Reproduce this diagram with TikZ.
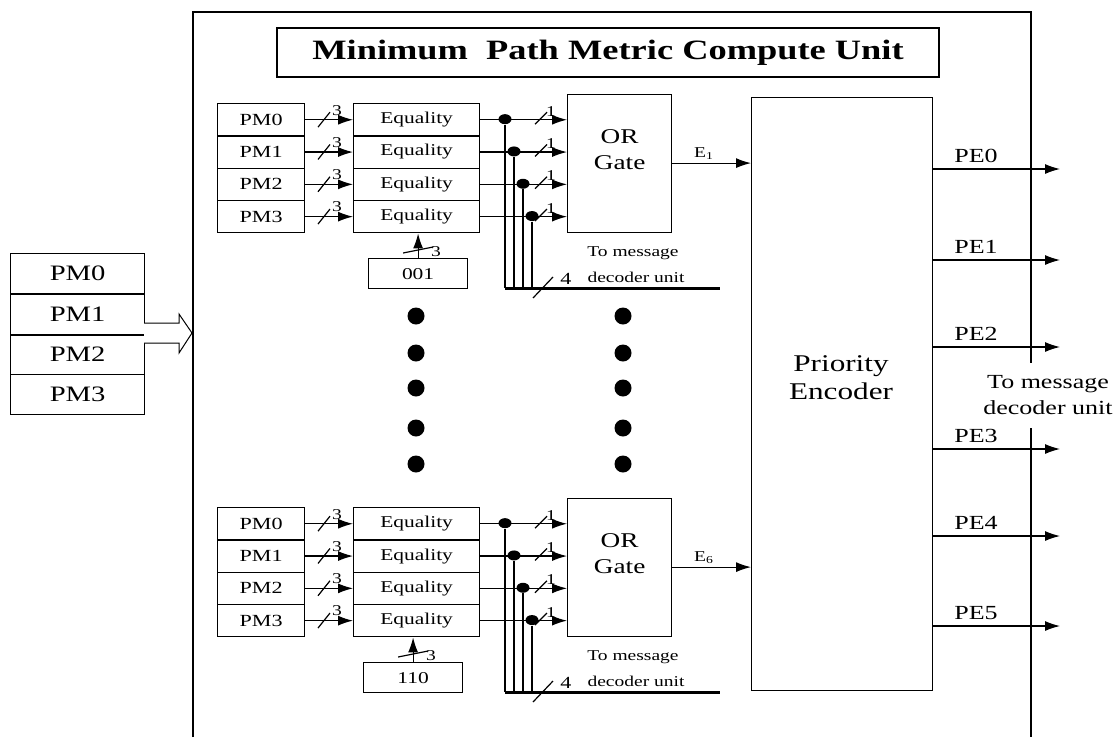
\documentclass[tikz,border=0pt]{standalone}
\usepackage{fontspec}
\setmainfont{Liberation Serif}[FakeStretch=1.3]
\usetikzlibrary{arrows.meta,shapes.geometric}

% one block of four comparators with its OR gate
% #1 prefix, #2 top of first row, #3 constant, #4 x of constant box, #5 index of E
\newcommand\pmgrp[5]{%
  \node[draw,inner sep=0pt,anchor=north west,minimum width=104pt,minimum height=138pt] (#1or) at (567,#2-9.5) {};
  \node[font=\fontsize{21}{26}\selectfont,align=center] at ([yshift=13pt]#1or.center) {OR\\Gate};
  \coordinate (#1busL) at (505,#2+185);
  \coordinate (#1busR) at (720,#2+185);
  \foreach \k in {0,...,3}{
    \pgfmathsetmacro\rowY{#2+\k*32.3}
    \pgfmathsetmacro\midY{#2+(\k+0.5)*32.3}
    \pgfmathsetmacro\dotX{505+9*\k}
    \node[cell,font=\fontsize{17}{19}\selectfont,minimum width=87pt,minimum height=32.3pt] (#1pm\k) at (217,\rowY) {PM\k};
    \node[cell,minimum width=126pt,minimum height=32.3pt] (#1eq\k) at (353,\rowY) {Equality};
    \draw[->] (#1pm\k) -- (#1eq\k);
    \draw (318,\midY+8) -- ++(12,-15);
    \node[small] at (337,\midY-9) {3};
    \draw[->] (#1eq\k.east) -- (#1or.west |- #1eq\k.east);
    \node[dot] (#1dot\k) at (\dotX,\midY) {};
    \draw[line width=1.6pt] (#1dot\k) -- (#1dot\k |- #1busL);
    \draw (535,\midY+5) -- ++(12,-12);
    \node[small] at (551,\midY-8) {1};
  }
  \draw[line width=3pt] (#1busL) -- (#1busR);
  \draw (533,#2+195) -- (553,#2+174);
  \node[font=\fontsize{17}{19}\selectfont] at (566,#2+176) {4};
  \node[small] at (633,#2+150) {To message};
  \node[small] at (636,#2+174) {decoder unit};
  \node[cell,minimum width=99pt,minimum height=30pt] (#1code) at (#4,#2+155) {#3};
  \draw[->] (#1code.north) -- (#1code.north |- #1eq3.south);
  \draw ([xshift=-15pt,yshift=5pt]#1code.north) -- ++(30,-6);
  \node[small] at ([xshift=18pt,yshift=6pt]#1code.north) {3};
  \draw[->] (#1or.east) -- (#1or.east -| enc.west)
    node[pos=0.4,above=3pt,small] {E\textsubscript{#5}};
}

\begin{document}
\begin{tikzpicture}[x=1pt,y=-1pt,line width=1.2pt,
  >={Latex[length=15pt,width=10pt]},
  cell/.style={draw,inner sep=0pt,anchor=north west,font=\fontsize{16.5}{18}\selectfont},
  small/.style={font=\fontsize{15}{17}\selectfont,inner sep=0pt},
  dot/.style={ellipse,fill,inner sep=0pt,minimum width=13pt,minimum height=10pt}]
\useasboundingbox (0,0) rectangle (1118,737);

% outer frame, open at the bottom, right side broken for the label
\draw (193,737) -- (193,12) -- (1031,12) -- (1031,363);
\draw (1031,428) -- (1031,737);

% title
\node[draw,inner sep=0pt,minimum width=662pt,minimum height=49pt,
  font=\bfseries\fontsize{28}{30}\selectfont] (title) at (608,52.5)
  {Minimum\ \ Path Metric Compute Unit};

% input registers and wide input arrow
\foreach \k in {0,...,3}
  \node[cell,font=\fontsize{22}{24}\selectfont,minimum width=134pt,minimum height=40.3pt]
    (lpm\k) at (10,{253+\k*40.3}) {PM\k};
\draw[line width=2pt] (lpm1.south west) -- (lpm1.south east);
\draw[line width=1pt,fill=white] (144,323) -- (179,323) -- (179,314) -- (192,333)
  -- (179,353) -- (179,343) -- (144,343);

% priority encoder
\node[draw,inner sep=0pt,anchor=north west,minimum width=181pt,minimum height=593pt] (enc) at (751,97) {};
\node[font=\fontsize{24}{28}\selectfont,align=center] at (841,378) {Priority\\Encoder};

% comparator blocks
\pmgrp{a}{103}{001}{368}{1}
\pmgrp{b}{507}{110}{363}{6}

% ellipsis dots between the blocks
\foreach \yy in {316,353,388,428,464}{
  \fill (416,\yy) circle[radius=8.5pt];
  \fill (623,\yy) circle[radius=8.5pt];
}

% encoder outputs
\foreach \k/\yy in {0/169,1/260,2/347,3/449,4/536,5/626}{
  \coordinate (pe\k) at (1060,\yy);
  \draw[->] (enc.east |- pe\k) -- (pe\k);
  \node[font=\fontsize{20}{22}\selectfont] at (976,\yy-13) {PE\k};
}
\node[font=\fontsize{20}{26}\selectfont,align=center] (dest) at (1048,395) {To message\\decoder unit};
\end{tikzpicture}
\end{document}
